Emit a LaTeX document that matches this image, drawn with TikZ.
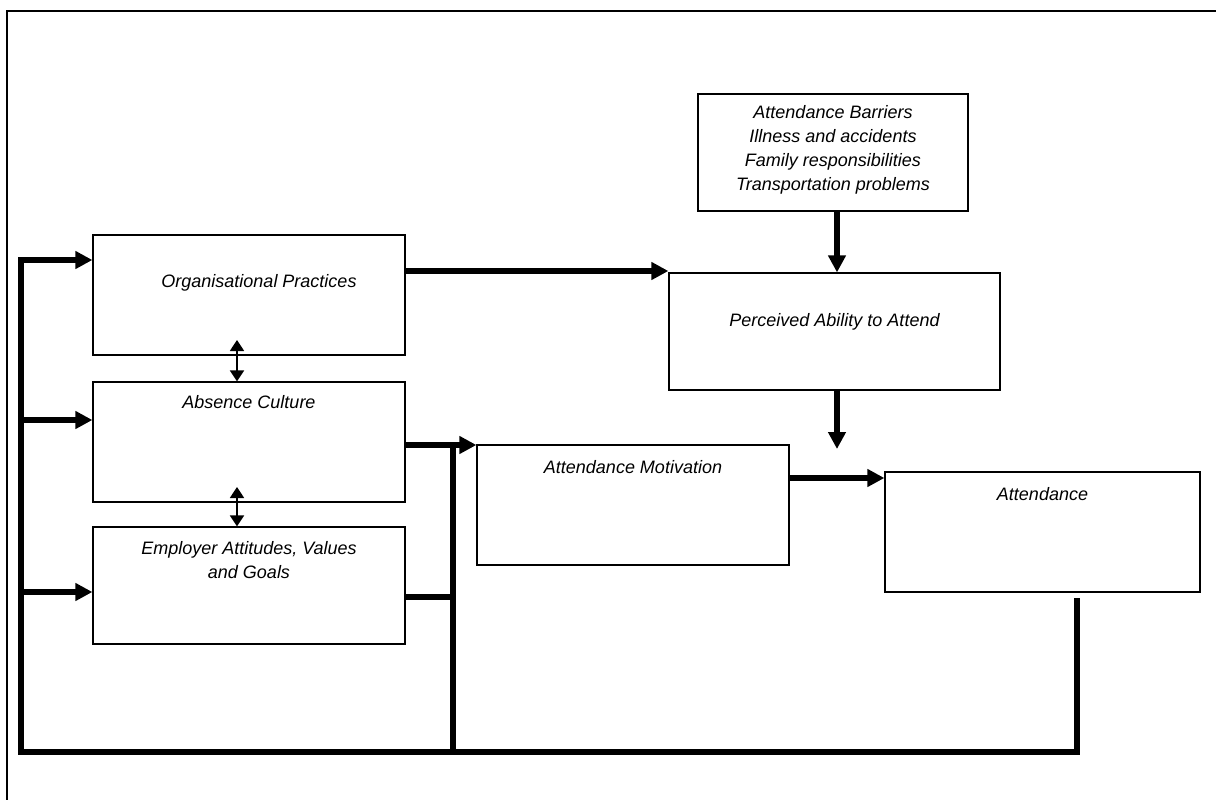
\documentclass[tikz,border=0pt]{standalone}
\usepackage{fontspec}
\setmainfont{Liberation Sans}
\usetikzlibrary{arrows.meta}
\begin{document}
\begin{tikzpicture}[x=1pt,y=-1pt,
 box/.style={draw, line width=1.2pt, rectangle, inner sep=0pt},
 lbl/.style={font=\fontsize{18}{24}\selectfont\itshape, align=center, inner sep=0pt},
 bigarrow/.style={line width=6pt, line join=miter, -{Triangle[length=17pt,width=17pt]}},
 bigline/.style={line width=6pt, line join=miter},
 dbl/.style={line width=1.8pt, {Triangle[length=11pt,width=14pt]}-{Triangle[length=11pt,width=14pt]}},
]
\useasboundingbox (0,0) rectangle (1216,800);
\draw[line width=2pt] (7,800) -- (7,11) -- (1216,11);

% boxes
\node[box, minimum width=270pt, minimum height=117pt] (bar) at (833,152.5) {};
\node[box, minimum width=312pt, minimum height=120pt] (org) at (249,295) {};
\node[box, minimum width=312pt, minimum height=120pt] (abs) at (249,442) {};
\node[box, minimum width=312pt, minimum height=117pt] (emp) at (249,585.5) {};
\node[box, minimum width=331pt, minimum height=117pt] (per) at (834.5,331.5) {};
\node[box, minimum width=312pt, minimum height=120pt] (mot) at (633,505) {};
\node[box, minimum width=315pt, minimum height=120pt] (att) at (1042.5,532) {};

% texts
\node[lbl] (barT) at (833,150) {Attendance Barriers\\Illness and accidents\\Family responsibilities\\Transportation problems};
\node[lbl] (orgT) at (259,283) {Organisational Practices};
\node[lbl] (absT) at (249,402) {Absence Culture};
\node[lbl] (empT) at (249,560) {Employer Attitudes, Values\\and Goals};
\node[lbl] (perT) at (834.5,322) {Perceived Ability to Attend};
\node[lbl] (motT) at (633,467) {Attendance Motivation};
\node[lbl] (attT) at (1042.5,494) {Attendance};

% coordinates
\coordinate (busL) at (21,752);
\coordinate (busM) at (453,752);
\coordinate (busR) at (1077,752);
\coordinate (attDrop) at (1077,598);
\coordinate (a1) at (21,260);
\coordinate (a2) at (21,420);
\coordinate (a3) at (21,592);
\coordinate (midTop) at (453,445);
\coordinate (empOut) at (453,597);
\coordinate (vx) at (837,0);
\coordinate (perEnd) at (837,449);
\coordinate (orgOut) at (405,271);
\coordinate (motOut) at (789,478);

% feedback loop
\draw[bigarrow] (attDrop) -- (busR) -- (busL) -- (a1) -- (a1 -| org.west);
\draw[bigarrow] (a2) -- (a2 -| abs.west);
\draw[bigarrow] (a3) -- (a3 -| emp.west);
\draw[bigline] (busM) -- (midTop);
\draw[bigline] (empOut -| emp.east) -- (empOut);
\draw[bigarrow] (midTop -| abs.east) -- (midTop -| mot.west);

% main arrows
\draw[bigarrow] (orgOut -| org.east) -- (orgOut -| per.west);
\draw[bigarrow] (bar.south -| vx) -- (per.north -| vx);
\draw[bigarrow] (per.south -| vx) -- (perEnd);
\draw[bigarrow] (motOut -| mot.east) -- (motOut -| att.west);

% double arrows
\draw[dbl] (237,340) -- (abs.north -| 237,0);
\draw[dbl] (237,487) -- (emp.north -| 237,0);
\end{tikzpicture}
\end{document}
